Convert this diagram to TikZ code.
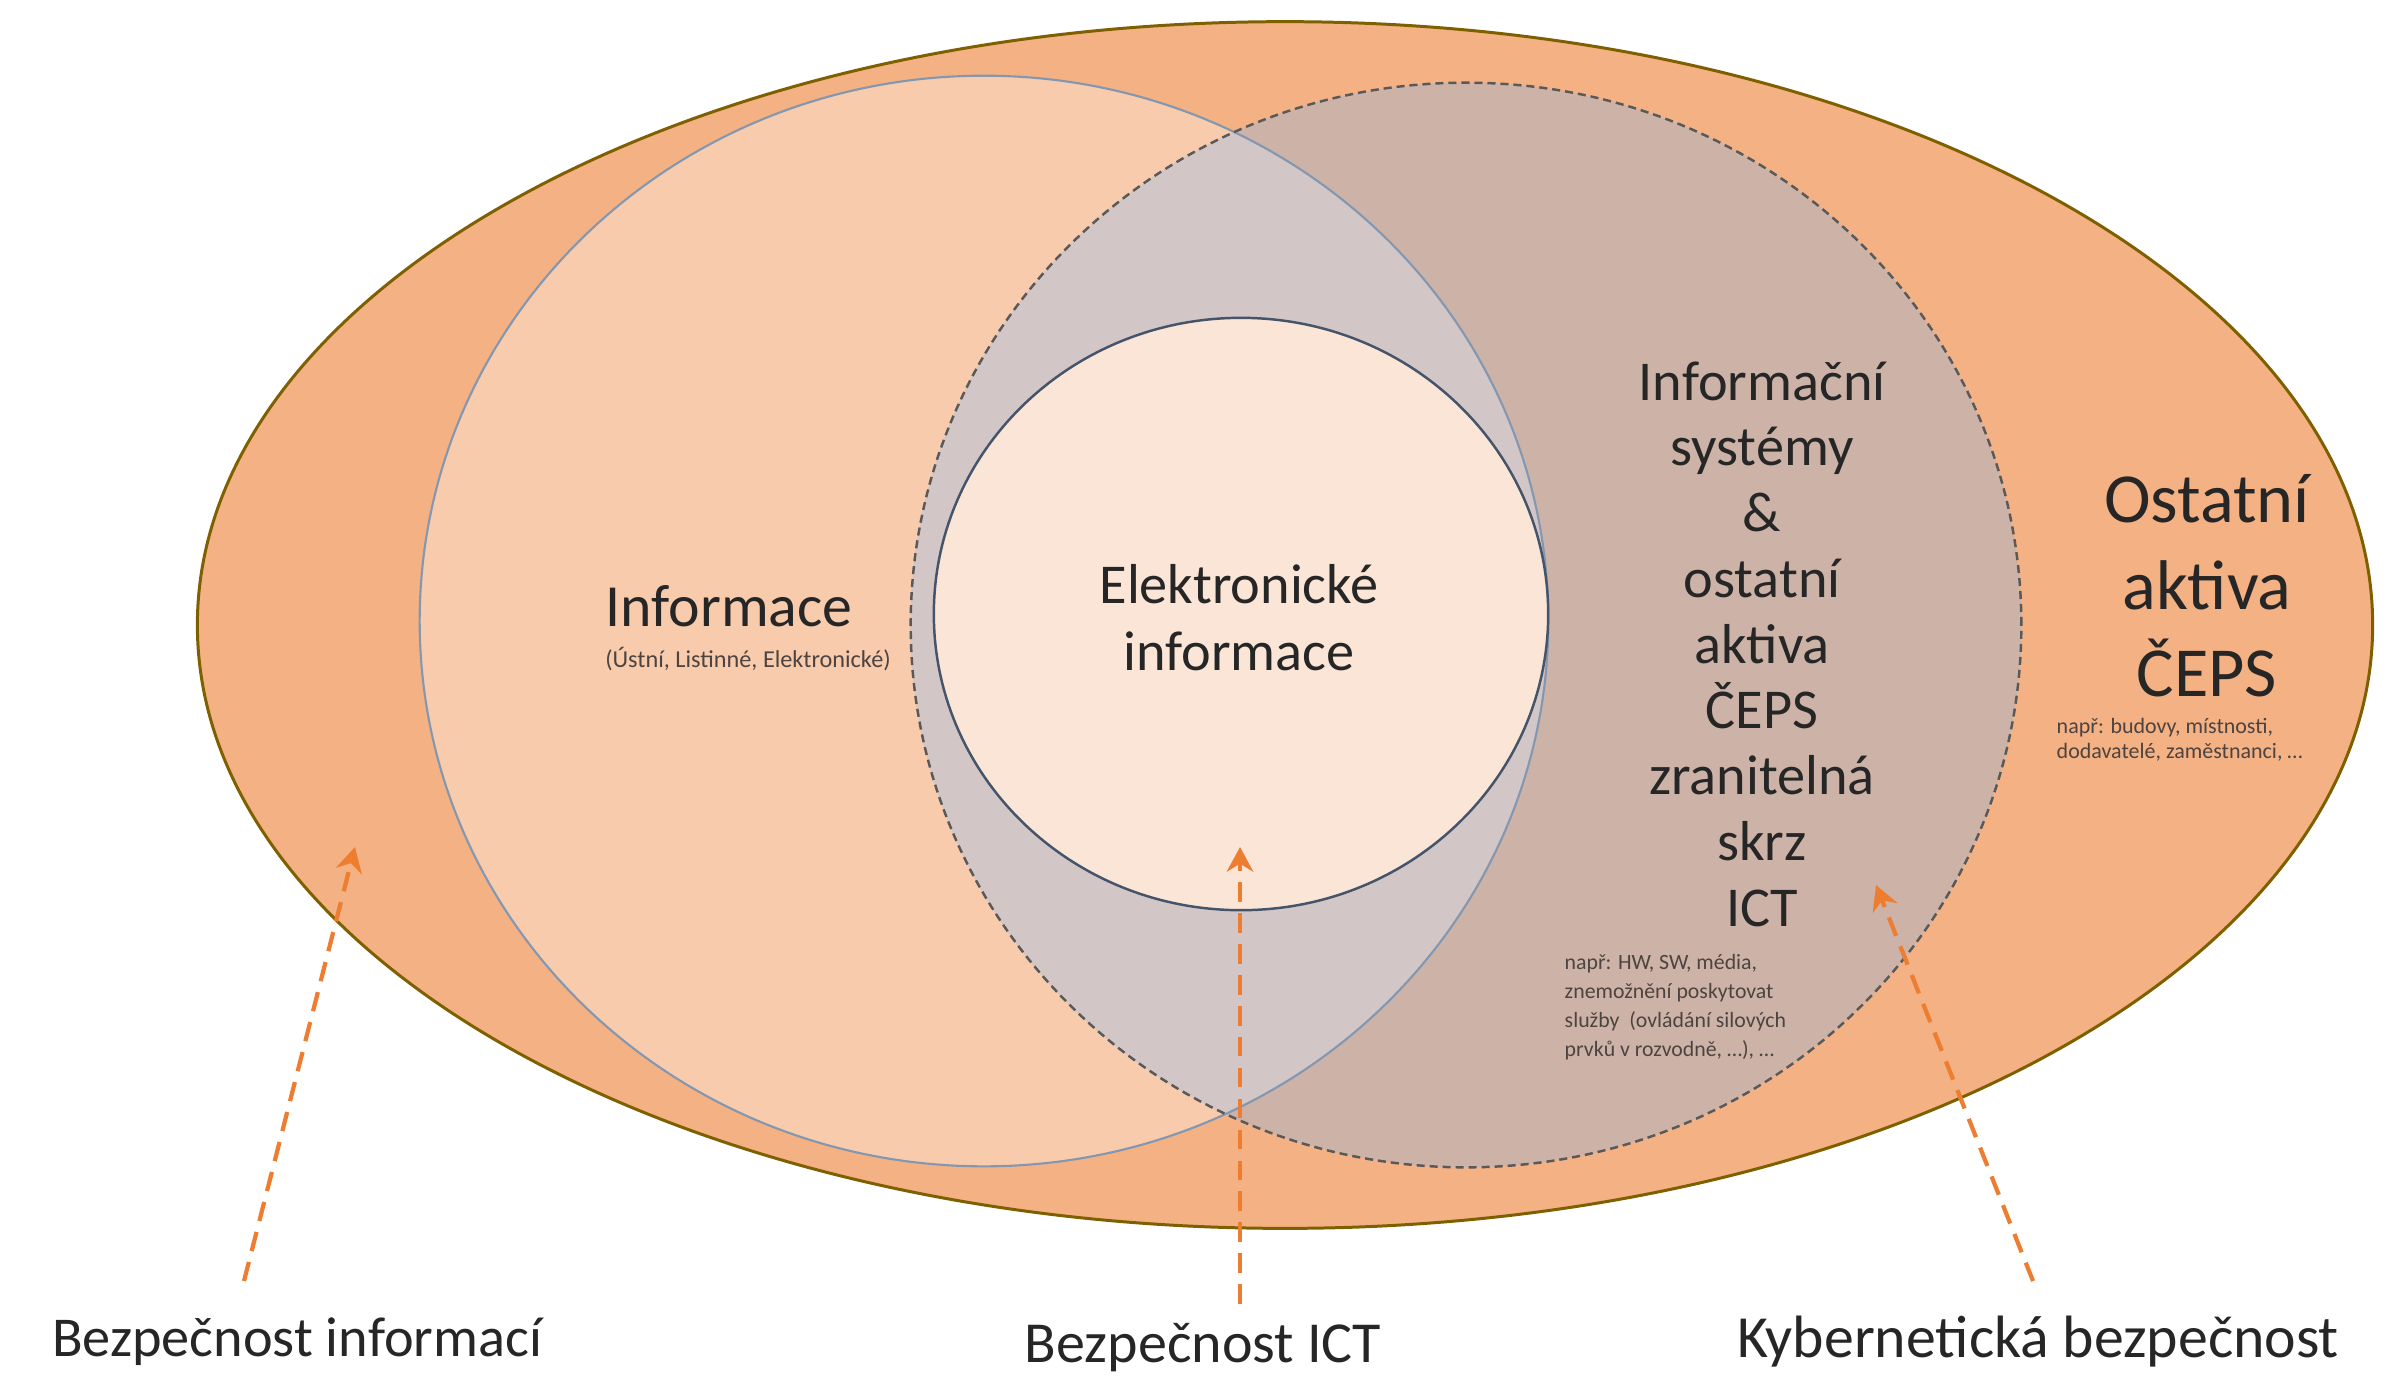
\documentclass[tikz,border=0pt]{standalone}
\usepackage{fontspec}
\setmainfont{Carlito}
\usetikzlibrary{shapes.geometric,arrows.meta}
\definecolor{outerC}{HTML}{F4B183}
\definecolor{outerL}{HTML}{7F6000}
\definecolor{infoC}{HTML}{F8CBAD}
\definecolor{infoL}{HTML}{8497B0}
\definecolor{dashC}{HTML}{CDB3A7}
\definecolor{dashL}{HTML}{595959}
\definecolor{interC}{HTML}{D3C6C6}
\definecolor{innerC}{HTML}{FBE5D6}
\definecolor{innerL}{HTML}{44546A}
\definecolor{arrC}{HTML}{ED7D31}
\definecolor{txtC}{HTML}{262626}
\definecolor{smallC}{HTML}{4D4340}
\tikzset{
  mainlbl/.style={text=txtC, align=center, font=\fontsize{16}{18.7}\selectfont, inner sep=0pt},
  biglbl/.style={text=txtC, align=center, font=\fontsize{20}{24.75}\selectfont, inner sep=0pt},
  botlbl/.style={text=txtC, align=center, font=\fontsize{17}{20}\selectfont, inner sep=0pt},
  smalllbl/.style={text=smallC, align=left, inner sep=0pt},
  secarrow/.style={draw=arrC, line width=1.2pt, dash pattern=on 5.6pt off 3.2pt, -{Stealth[length=7pt,width=7.5pt]}},
}
\begin{document}
\begin{tikzpicture}[x=0.01cm,y=-0.01cm]
\useasboundingbox (0,0) rectangle (2392,1375);
\fill[white] (0,0) rectangle (2392,1375);
% outer ellipse
\fill[outerC] (1285,625) ellipse [x radius=10.87cm, y radius=6.03cm];
% Informace
\fill[infoC] (984,621) ellipse [x radius=5.64cm, y radius=5.45cm];
% dashed region
\fill[dashC] (1466,625) ellipse [x radius=5.55cm, y radius=5.42cm];
\begin{scope}
  \clip (984,621) ellipse [x radius=5.64cm, y radius=5.45cm];
  \fill[interC] (1466,625) ellipse [x radius=5.55cm, y radius=5.42cm];
\end{scope}
% inner
\fill[innerC] (1241,614) ellipse [x radius=3.07cm, y radius=2.96cm];
% outlines
\draw[outerL, line width=0.85pt] (1285,625) ellipse [x radius=10.87cm, y radius=6.03cm];
\draw[infoL, line width=0.6pt] (984,621) ellipse [x radius=5.64cm, y radius=5.45cm];
\draw[dashL, line width=0.7pt, dash pattern=on 2.3pt off 1.4pt] (1466,625) ellipse [x radius=5.55cm, y radius=5.42cm];
\draw[innerL, line width=0.7pt] (1241,614) ellipse [x radius=3.07cm, y radius=2.96cm];

% texts
\node[mainlbl, font=\fontsize{17}{19}\selectfont] (info) at (729,606) {Informace};
\node[smalllbl, font=\fontsize{6.9}{8}\selectfont] (infosub) at (748,659) {(Ústní, Listinné, Elektronické)};
\node[mainlbl, font=\fontsize{16}{19}\selectfont] (elinfo) at (1239,618) {Elektronické\\informace};
\node[mainlbl] (is) at (1762,644) {Informační\\systémy\\\&\\ostatní\\aktiva\\ČEPS\\zranitelná\\skrz\\ICT};
\node[smalllbl, font=\fontsize{6.2}{8.25}\selectfont, anchor=west] (issub) at (1564,1007) {např: HW, SW, média,\\znemožnění poskytovat\\služby~ (ovládání silových\\prvků v rozvodně, …), …};
\node[biglbl] (ost) at (2207,586) {Ostatní\\aktiva\\ČEPS};
\node[smalllbl, font=\fontsize{6.25}{7}\selectfont, anchor=west] (ostsub) at (2056,740) {např: budovy, místnosti,\\dodavatelé, zaměstnanci, …};

\node[botlbl, font=\fontsize{16}{19}\selectfont] (bi) at (297,1342) {Bezpečnost informací};
\node[botlbl, font=\fontsize{16.5}{19}\selectfont] (bict) at (1203,1348) {Bezpečnost ICT};
\node[botlbl] (kb) at (2038,1342) {Kybernetická bezpečnost};

% arrows
\coordinate (a1s) at (244,1281);
\coordinate (a1e) at (355,847);
\coordinate (a2s) at (1240,1304);
\coordinate (a2e) at (1240,847);
\coordinate (a3s) at (2033,1281);
\coordinate (a3e) at (1876,885);
\draw[secarrow] (a1s) -- (a1e);
\draw[secarrow] (a2s) -- (a2e);
\draw[secarrow] (a3s) -- (a3e);
\end{tikzpicture}
\end{document}
